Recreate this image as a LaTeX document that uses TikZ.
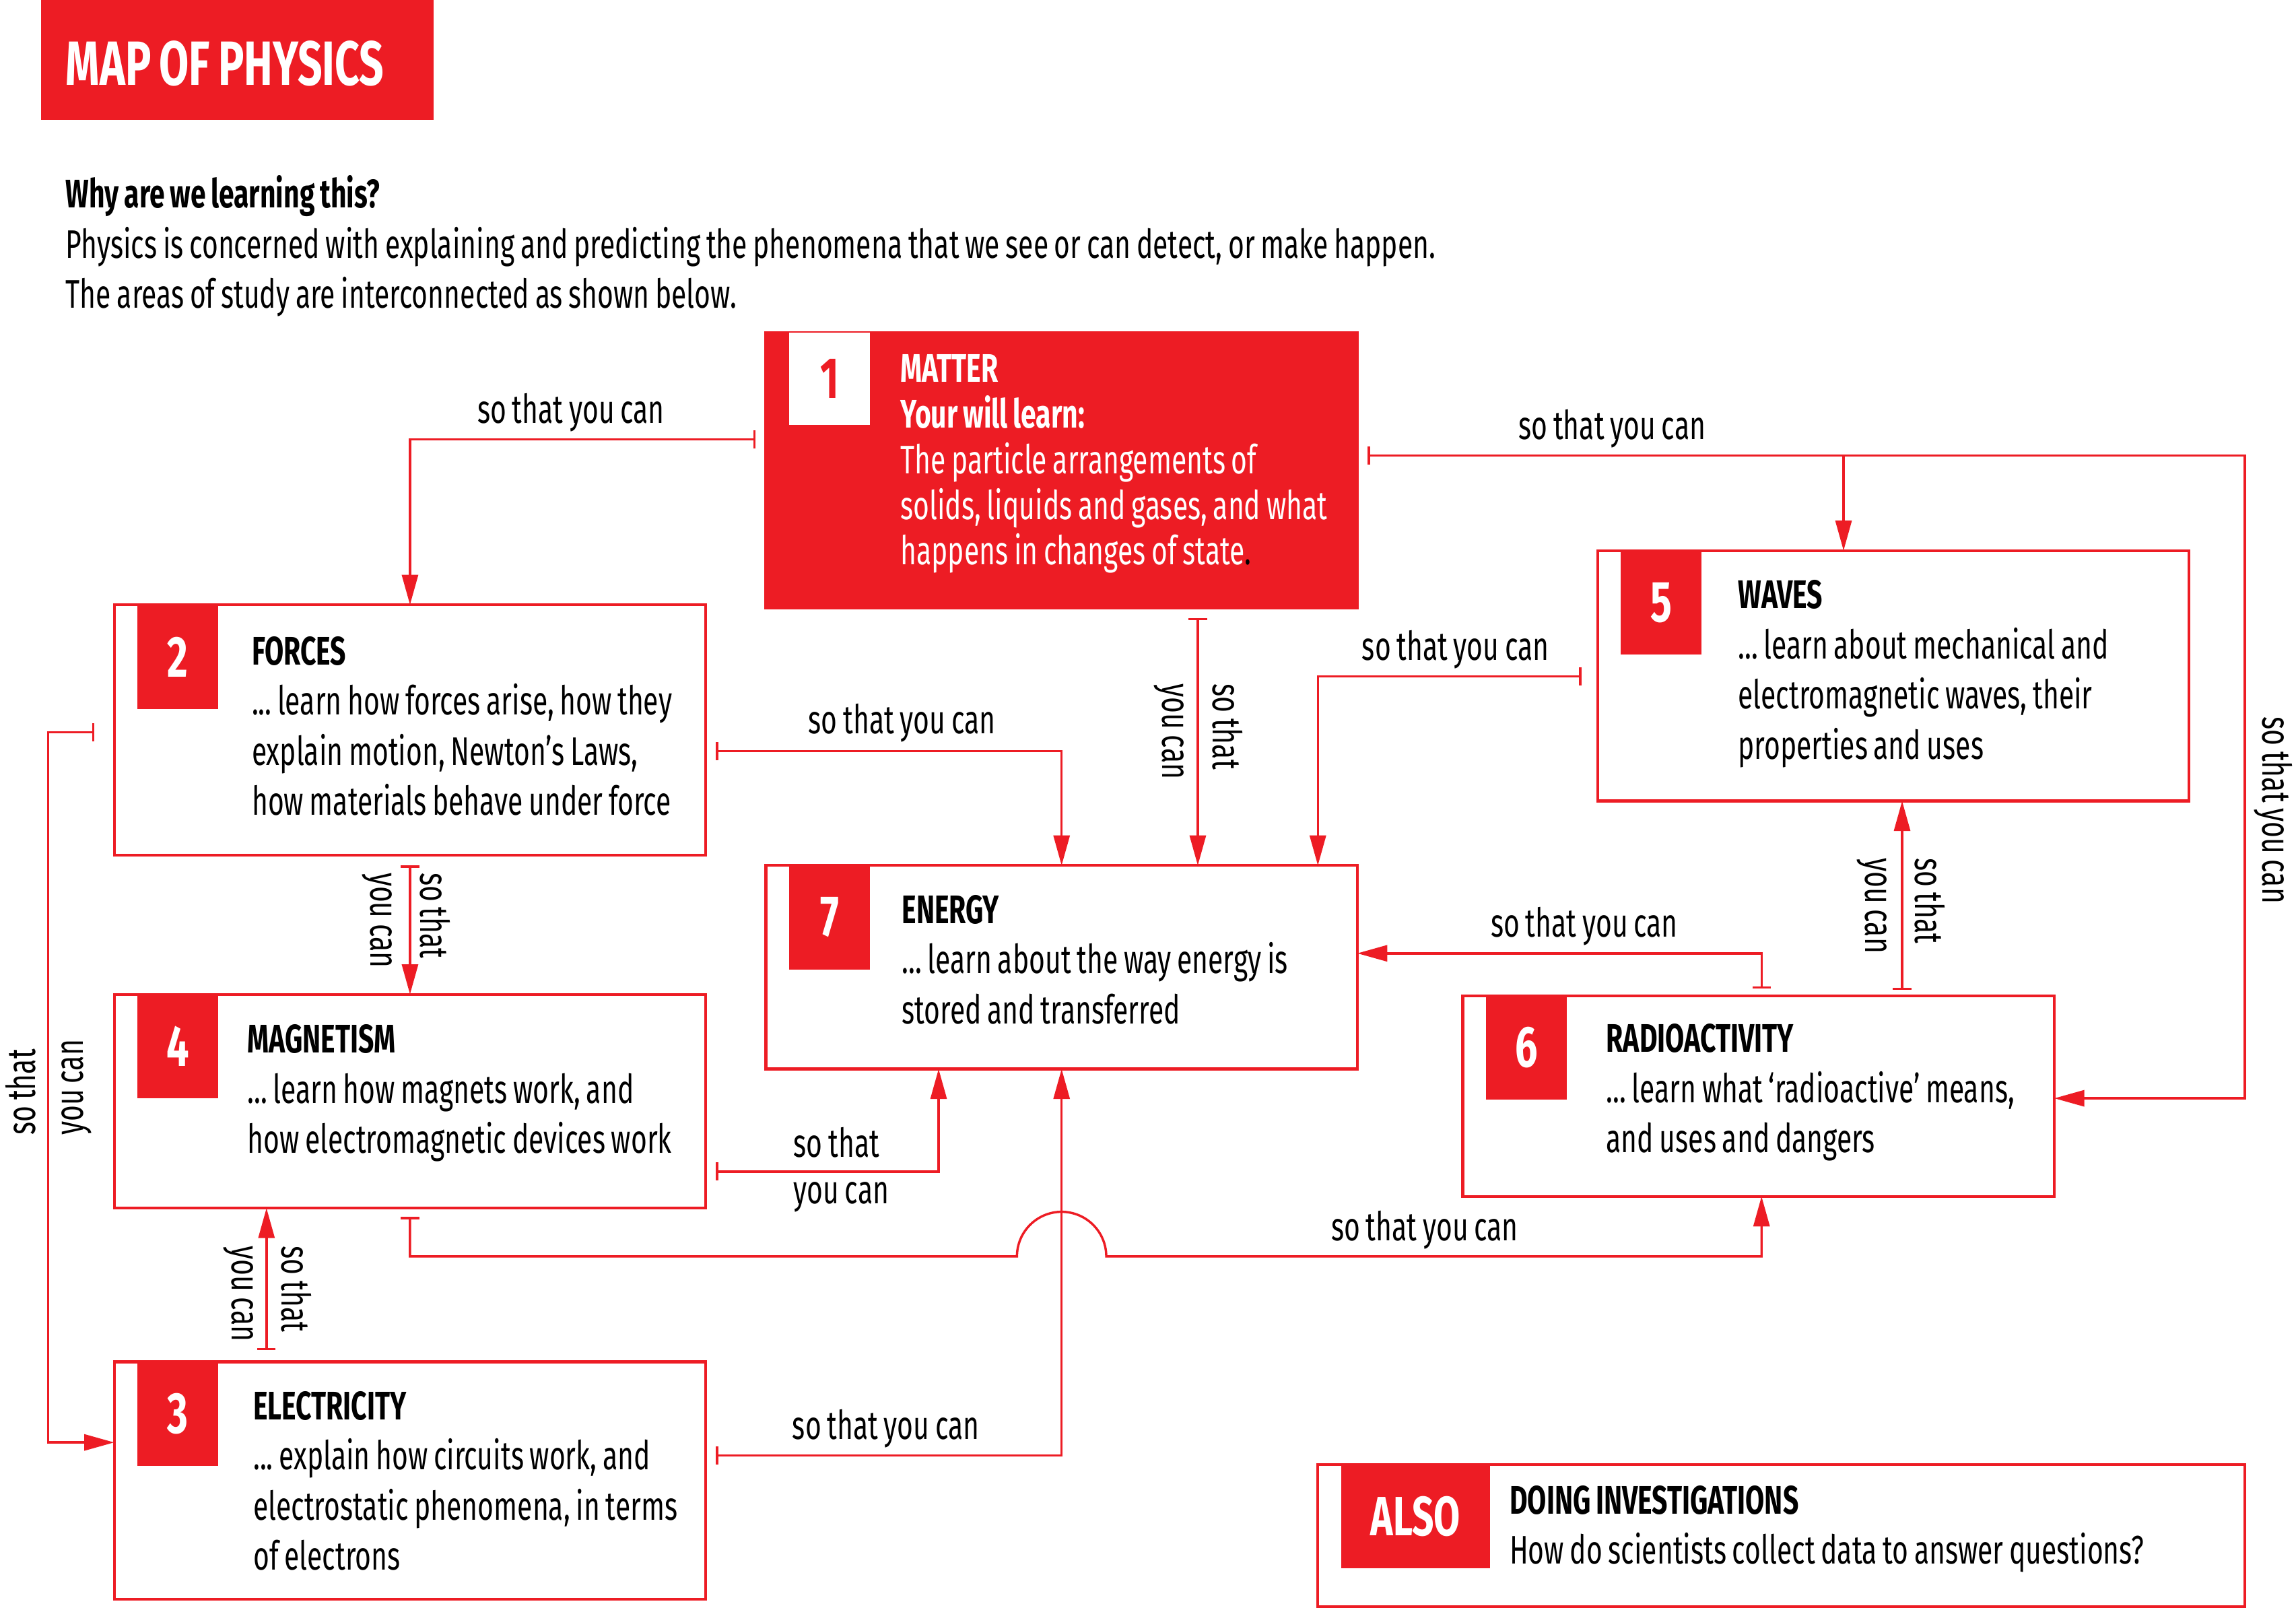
\documentclass[tikz,border=0pt]{standalone}
\usepackage{fontspec}
\setmainfont{Fira Sans}[FakeStretch=0.69, WordSpace=0.8]
\usetikzlibrary{arrows.meta,positioning}
\definecolor{physred}{HTML}{ED1C24}

\begin{document}
\begin{tikzpicture}[x=0.02cm, y=-0.02cm]
\tikzset{
    every node/.style={inner sep=0pt, outer sep=0pt},
    box/.style={draw=physred, line width=1.1pt, rectangle, anchor=north west},
    tab/.style={fill=physred, text=white, anchor=north west, minimum width=1.1cm, minimum height=1.42cm, font=\fontsize{22.5}{24}\selectfont\bfseries},
    body/.style={anchor=base west, text width=13cm, align=left, font=\fontsize{15.5}{19.5}\selectfont,
        execute at begin node={\spaceskip=0pt\xspaceskip=0pt\frenchspacing}},
    lbl/.style={anchor=base, font=\fontsize{15.5}{19.5}\selectfont},
    vlbl/.style={anchor=base west, rotate=-90, font=\fontsize{15.5}{19.5}\selectfont},
    ulbl/.style={anchor=base west, rotate=90, font=\fontsize{15.5}{19.5}\selectfont},
    feed/.style={draw=physred, line width=0.9pt, -{Triangle[length=0.41cm, width=0.22cm]}},
    link/.style={feed, {Bar[width=0.25cm]}-{Triangle[length=0.41cm, width=0.22cm]}, shorten <=0.14cm}
}
\useasboundingbox (0,0) rectangle (1568,1099);

\node[fill=physred, anchor=north west, minimum width=5.36cm, minimum height=1.64cm] (title) at (28,0) {};
\node[anchor=base west, text=white, font=\fontsize{24.3}{27}\selectfont\bfseries] (titletext) at (45,58) {MAP OF PHYSICS};
\node[body, text width=24cm] (intro) at (45,142) {\textbf{Why are we learning this?}\\
    Physics is concerned with explaining and predicting the phenomena that we see or can detect, or make happen.\\
    The areas of study are interconnected as shown below.};

\node[box, fill=physred, minimum width=8.08cm, minimum height=3.76cm] (matter) at (523,227) {};
\node[box, minimum width=8.08cm, minimum height=3.42cm] (forces) at (78,413) {};
\node[box, minimum width=8.08cm, minimum height=2.92cm] (magnet) at (78,679) {};
\node[box, minimum width=8.08cm, minimum height=3.24cm] (electric) at (78,930) {};
\node[box, minimum width=8.08cm, minimum height=2.78cm] (energy) at (523,591) {};
\node[box, minimum width=8.08cm, minimum height=3.42cm] (waves) at (1091,376) {};
\node[box, minimum width=8.08cm, minimum height=2.74cm] (radio) at (999,680) {};
\node[box, minimum width=12.66cm, minimum height=1.94cm] (also) at (900,1000) {};

\node[tab, fill=white, text=physred, minimum height=1.26cm] (matternum) at ([xshift=0.32cm]matter.north west) {1};
\node[tab] (forcesnum) at ([xshift=0.32cm]forces.north west) {2};
\node[tab] (electricnum) at ([xshift=0.32cm]electric.north west) {3};
\node[tab] (magnetnum) at ([xshift=0.32cm]magnet.north west) {4};
\node[tab] (wavesnum) at ([xshift=0.32cm]waves.north west) {5};
\node[tab] (radionum) at ([xshift=0.32cm]radio.north west) {6};
\node[tab] (energynum) at ([xshift=0.32cm]energy.north west) {7};
\node[tab, minimum width=2.03cm, font=\fontsize{21.5}{24}\selectfont\bfseries] (alsonum) at ([xshift=0.32cm]also.north west) {ALSO};

\node[body, text=white, font=\fontsize{15.5}{17.75}\selectfont] (mattertext) at (615,261) {\textbf{MATTER}\\
    \textbf{Your will learn:}\\
    The particle arrangements of\\
    solids, liquids and gases, and what\\
    happens in changes of state\textcolor{black}{.}};
\node[body] (forcestext) at (172,454) {\textbf{FORCES}\\
    ... learn how forces arise, how they\\
    explain motion, Newton's Laws,\\
    how materials behave under force};
\node[body] (magnettext) at (169,719) {\textbf{MAGNETISM}\\
    ... learn how magnets work, and\\
    how electromagnetic devices work};
\node[body] (electrictext) at (173,969.5) {\textbf{ELECTRICITY}\\
    ... explain how circuits work, and\\
    electrostatic phenomena, in terms\\
    of electrons};
\node[body] (energytext) at (616,630.5) {\textbf{ENERGY}\\
    ... learn about the way energy is\\
    stored and transferred};
\node[body] (wavestext) at (1187,415.6) {\textbf{WAVES}\\
    ... learn about mechanical and\\
    electromagnetic waves, their\\
    properties and uses};
\node[body] (radiotext) at (1097,718.6) {\textbf{RADIOACTIVITY}\\
    ... learn what `radioactive' means,\\
    and uses and dangers};
\node[body] (alsotext) at (1031,1033.8) {\textbf{DOING INVESTIGATIONS}\\
    How do scientists collect data to answer questions?};

\coordinate (split) at (1259,311);
\draw[link] (matter.west |- 0,300) -| (forces.north -| 280,0);
\draw[link] (matter.east |- 0,311) -- (1533,311) |- (radio.east |- 0,750);
\draw[feed] (split) -- (waves.north -| split);
\draw[link] (matter.south -| 818,0) -- (energy.north -| 818,0);
\draw[link] (forces.south -| 280,0) -- (magnet.north -| 280,0);
\draw[link] (forces.east |- 0,513) -| (energy.north -| 725,0);
\draw[link, shorten <=0.22cm] (waves.west |- 0,462) -| (energy.north -| 900,0);
\draw[link, shorten <=0.1cm] (radio.north -| 1203,0) |- (energy.east |- 0,651);
\draw[link, shorten <=0.08cm] (radio.north -| 1299,0) -- (waves.south -| 1299,0);
\draw[link, shorten <=0.27cm] (forces.west |- 0,500) -- (33,500) |- (electric.west |- 0,985);
\draw[link, shorten <=0.16cm] (electric.north -| 182,0) -- (magnet.south -| 182,0);
\draw[link] (magnet.east |- 0,800) -| (energy.south -| 641,0);
\draw[link] (electric.east |- 0,994) -| (energy.south -| 725,0);
\draw[link, shorten <=0.12cm] (magnet.south -| 280,0) |- (694.5,858) arc[start angle=180, end angle=0, radius=0.61cm] -| (radio.south -| 1203,0);

\node[lbl] (lmatterforces) at (390,289) {so that you can};
\node[lbl] (lmatterwaves) at (1101,300) {so that you can};
\node[lbl] (lforcesenergy) at (616,501) {so that you can};
\node[lbl] (lwavesenergy) at (994,451) {so that you can};
\node[lbl] (lradioenergy) at (1082,640) {so that you can};
\node[lbl] (lmagnetradio) at (973,847) {so that you can};
\node[lbl] (lelectricenergy) at (605,983) {so that you can};
\node[lbl, anchor=base west] (lmagnetenergya) at (542,790) {so that};
\node[lbl, anchor=base west] (lmagnetenergyb) at (542,822) {you can};

\node[vlbl] (lmatterenergya) at (828.4,467) {so that};
\node[vlbl] (lmatterenergyb) at (794,467) {you can};
\node[vlbl] (lforcesmagneta) at (287,596) {so that};
\node[vlbl] (lforcesmagnetb) at (253,596) {you can};
\node[vlbl] (lradiowavesa) at (1308,586) {so that};
\node[vlbl] (lradiowavesb) at (1274,586) {you can};
\node[vlbl] (lelectricmagneta) at (192.3,851) {so that};
\node[vlbl] (lelectricmagnetb) at (158.6,851) {you can};
\node[vlbl] (lmatterradio) at (1545,489.5) {so that you can};
\node[ulbl] (lforceselectrica) at (24,775) {so that};
\node[ulbl] (lforceselectricb) at (57,775) {you can};
\end{tikzpicture}
\end{document}
